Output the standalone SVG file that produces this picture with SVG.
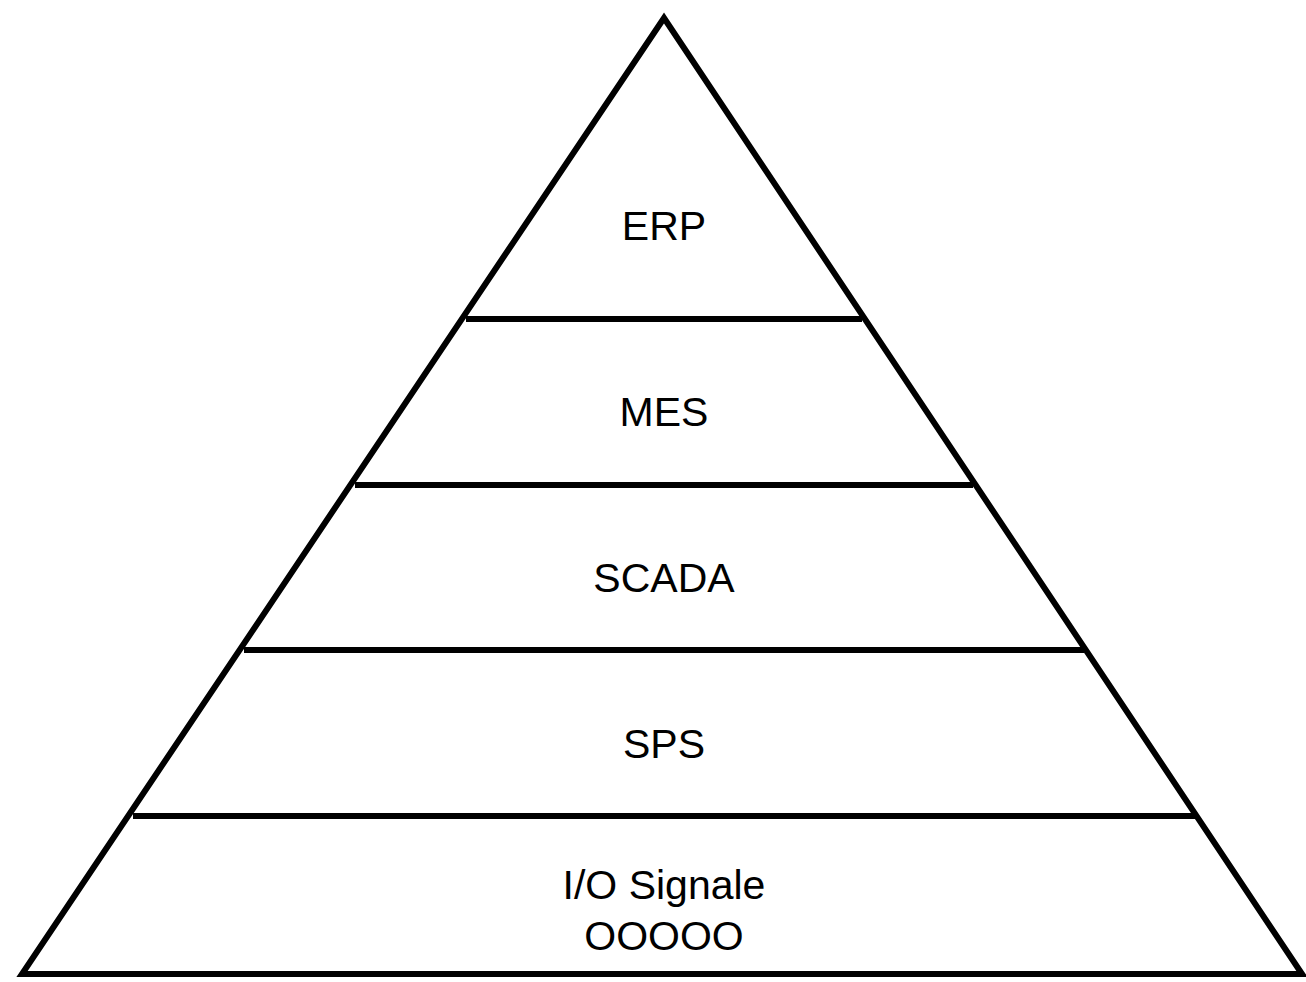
<svg xmlns="http://www.w3.org/2000/svg" width="1306" height="982" viewBox="0 0 1306 982">
<style>
.l{stroke:#000;stroke-width:6;fill:none}
.t{font-family:"Liberation Sans",Arial,sans-serif;font-size:41px;fill:#000;text-anchor:middle}
</style>
<rect width="1306" height="982" fill="#fff"/>
<g id="pyramid">
<polygon class="l" points="664,18 22,974 1302,974" stroke-linejoin="miter"/>
</g>
<g id="connectors">
<line class="l" x1="466" y1="319" x2="862" y2="319"/>
<line class="l" x1="355" y1="485" x2="973" y2="485"/>
<line class="l" x1="244" y1="650" x2="1084" y2="650"/>
<line class="l" x1="133" y1="816" x2="1195" y2="816"/>
</g>
<g id="erp"><text class="t" x="664" y="240">ERP</text></g>
<g id="mes"><text class="t" x="664" y="426">MES</text></g>
<g id="scada"><text class="t" x="664" y="592">SCADA</text></g>
<g id="sps"><text class="t" x="664" y="758">SPS</text></g>
<g id="io"><text class="t" x="664" y="899">I/O Signale</text><text class="t" x="664" y="950">OOOOO</text></g>
</svg>
